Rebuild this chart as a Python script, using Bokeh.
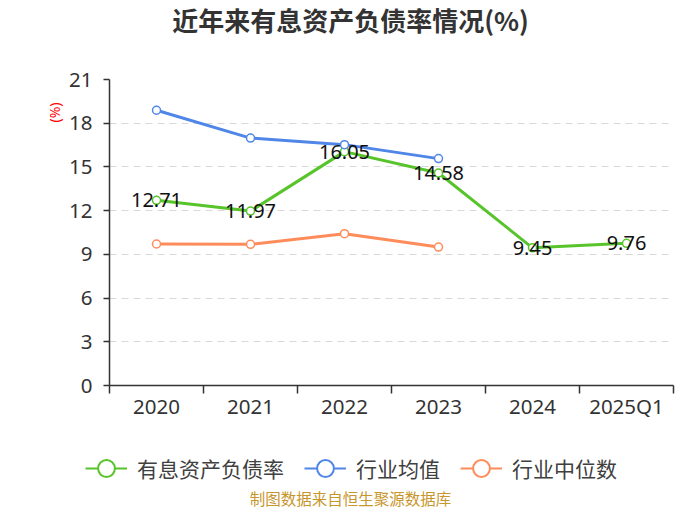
from bokeh.plotting import figure
from bokeh.layouts import column, row
from bokeh.models import (Range1d, FixedTicker, Legend, LegendItem, Title,
                          Label, ColumnDataSource)
from bokeh.embed import file_html
from bokeh.resources import INLINE
from bokeh.core.properties import value

categories = ["2020", "2021", "2022", "2023", "2024", "2025Q1"]
debt_ratio = [12.71, 11.97, 16.05, 14.58, 9.45, 9.76]
industry_avg = [18.89, 16.98, 16.53, 15.57]
industry_median = [9.71, 9.69, 10.42, 9.50]
y_ticks = [0, 3, 6, 9, 12, 15, 18, 21]
series_names = ["有息资产负债率", "行业均值", "行业中位数"]
title_text = "近年来有息资产负债率情况(%)"
unit_text = "(%)"
source_text = "制图数据来自恒生聚源数据库"

GREEN = "#58c42b"
BLUE = "#4f86e8"
ORANGE = "#fe8c5b"
COLORS = [GREEN, BLUE, ORANGE]
CJK = "Noto Sans CJK SC"
NUM = "Noto Sans"
W = 684
NAN = float("nan")


def blank_fig(h):
    f = figure(width=W, height=h, output_backend="svg", toolbar_location=None,
               x_axis_type=None, y_axis_type=None,
               x_range=Range1d(0, 1), y_range=Range1d(0, 1))
    f.min_border = 0
    f.min_border_left = 0
    f.min_border_right = 0
    f.min_border_top = 0
    f.min_border_bottom = 0
    f.outline_line_color = None
    f.xgrid.visible = False
    f.ygrid.visible = False
    return f


# ---------- title strip ----------
top = blank_fig(64)
top.add_layout(Label(x=350, y=45, x_units="screen", y_units="screen",
                     text=title_text, text_align="center", text_baseline="middle",
                     text_font=CJK, text_font_size="26px", text_font_style="bold",
                     text_color="#333333"))

# ---------- main chart ----------
xs = [i + 0.5 for i in range(len(categories))]

p = figure(width=W, height=366, output_backend="svg", toolbar_location=None,
           x_range=Range1d(0, len(categories)), y_range=Range1d(0, 21))
p.min_border_left = 109
p.min_border_right = 11
p.min_border_top = 15
p.min_border_bottom = 45
p.outline_line_color = None

p.xaxis.ticker = FixedTicker(ticks=xs, minor_ticks=list(range(len(categories) + 1)))
p.xaxis.major_label_overrides = {x: c for x, c in zip(xs, categories)}
p.xaxis.major_tick_out = 0
p.xaxis.major_tick_in = 0
p.xaxis.minor_tick_out = 8
p.xaxis.minor_tick_in = 0
p.xaxis.minor_tick_line_color = "#333333"
p.xaxis.minor_tick_line_width = 1.5
p.xaxis.major_label_standoff = -2

p.yaxis.ticker = FixedTicker(ticks=y_ticks)
p.yaxis.major_tick_out = 6
p.yaxis.major_tick_in = 0
p.yaxis.minor_tick_out = 0
p.yaxis.minor_tick_in = 0
p.yaxis.major_label_standoff = 11

for ax in (p.xaxis, p.yaxis):
    ax.axis_line_color = "#333333"
    ax.axis_line_width = 1.5
    ax.major_tick_line_color = "#333333"
    ax.major_tick_line_width = 1.5
    ax.major_label_text_font = NUM
    ax.major_label_text_font_size = "20.5px"
    ax.major_label_text_color = "#333333"

p.xgrid.visible = False
p.ygrid.grid_line_color = "#d9d9d9"
p.ygrid.grid_line_dash = "7 5"
p.ygrid.grid_line_width = 1.2

src_g = ColumnDataSource(dict(x=xs, y=debt_ratio, t=[f"{v:.2f}" for v in debt_ratio]))
src_b = ColumnDataSource(dict(x=xs[:len(industry_avg)], y=industry_avg))
src_o = ColumnDataSource(dict(x=xs[:len(industry_median)], y=industry_median))

for src, col in ((src_g, GREEN), (src_b, BLUE), (src_o, ORANGE)):
    p.line("x", "y", source=src, line_color=col, line_width=3)
    p.scatter("x", "y", source=src, size=8, marker="circle",
              fill_color="white", line_color=col, line_width=1.5)

p.text("x", "y", text="t", source=src_g, text_align="center",
       text_baseline="middle", text_font=value(NUM), text_font_size="20px",
       text_color="#111111")

p.add_layout(Title(text=unit_text, align="right", offset=23, standoff=6,
                   text_font=NUM, text_font_size="14px", text_font_style="normal",
                   text_color="#ff0000"), "left")

# ---------- legend + source strip ----------
bot = blank_fig(79)
items = []
for name, col in zip(series_names, COLORS):
    # legend-only renderers (a single NaN point draws nothing on the canvas)
    dummy = ColumnDataSource(dict(x=[NAN], y=[NAN]))
    lr = bot.line("x", "y", source=dummy, line_color=col, line_width=2)
    sr = bot.scatter("x", "y", source=dummy, marker="circle", size=16,
                     fill_color="white", line_color=col, line_width=2)
    items.append(LegendItem(label=name, renderers=[lr, sr]))

legend = Legend(items=items, orientation="horizontal", location=(85, 20),
                glyph_width=42, glyph_height=42, label_standoff=10, spacing=20,
                padding=0, margin=0, border_line_color=None,
                background_fill_alpha=0,
                label_text_font=CJK, label_text_font_size="21px",
                label_text_color="#404040")
bot.add_layout(legend, "center")

bot.add_layout(Label(x=350, y=12, x_units="screen", y_units="screen",
                     text=source_text, text_align="center", text_baseline="middle",
                     text_font=CJK, text_font_size="15.5px",
                     text_color="#c8962e"))

layout = column(row(top), p, row(bot), spacing=0)
open("out.html", "w").write(file_html(layout, INLINE))
